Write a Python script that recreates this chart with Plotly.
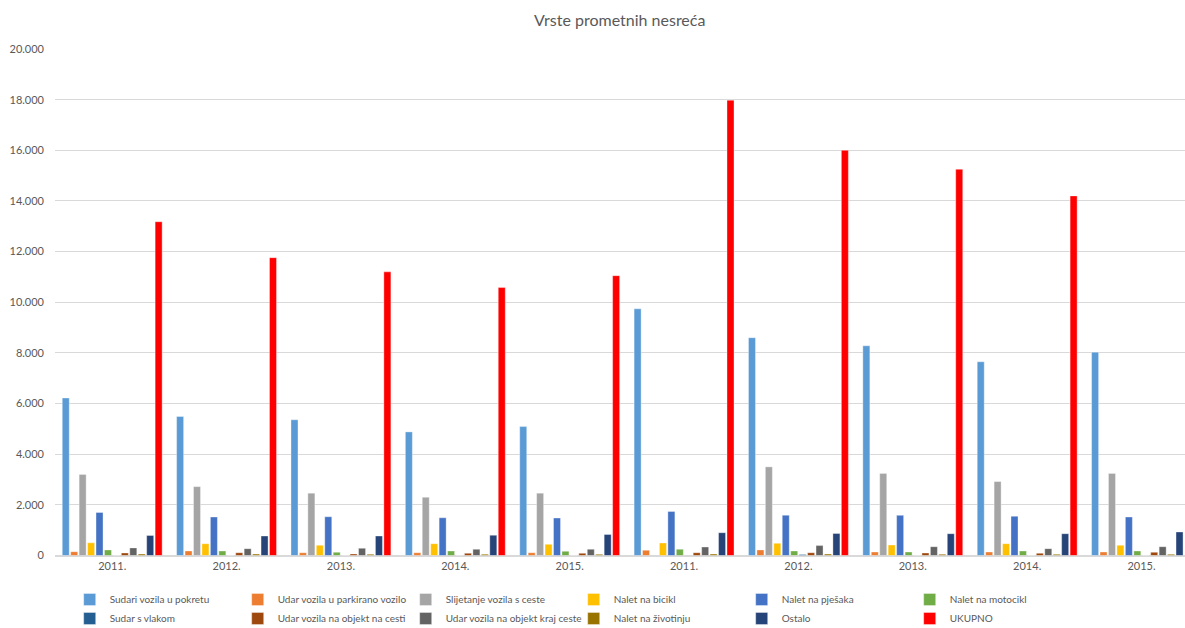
import plotly.graph_objects as go

categories = ["2011.", "2012.", "2013.", "2014.", "2015.",
              "2011. ", "2012. ", "2013. ", "2014. ", "2015. "]
tick_labels = ["2011.", "2012.", "2013.", "2014.", "2015.",
               "2011.", "2012.", "2013.", "2014.", "2015."]

series_names = [
    "Sudari vozila u pokretu",
    "Udar vozila u parkirano vozilo",
    "Slijetanje vozila s ceste",
    "Nalet na bicikl",
    "Nalet na pješaka",
    "Nalet na motocikl",
    "Sudar s vlakom",
    "Udar vozila na objekt na cesti",
    "Udar vozila na objekt kraj ceste",
    "Nalet na životinju",
    "Ostalo",
    "UKUPNO",
]

sudari = [6220, 5490, 5360, 4880, 5090, 9740, 8600, 8280, 7650, 8030]
parkirano = [150, 180, 110, 110, 110, 205, 220, 138, 138, 138]
slijetanje = [3200, 2720, 2460, 2300, 2460, None, 3500, 3240, 2920, 3240]
bicikl = [500, 466, 400, 466, 440, 495, 480, 414, 466, 400]
pjesak = [1700, 1520, 1530, 1490, 1480, 1740, 1590, 1585, 1550, 1520]
motocikl = [220, 178, 126, 178, 165, 245, 178, 138, 178, 178]
vlak = [4, 4, 4, 4, 4, None, 40, 4, 4, 4]
objekt_cesta = [100, 110, 60, 87, 87, 110, 110, 98, 87, 126]
objekt_kraj = [300, 270, 284, 245, 245, 335, 390, 348, 270, 348]
zivotinja = [55, 55, 50, 50, 45, 55, 55, 50, 45, 45]
ostalo = [790, 770, 770, 800, 830, 900, 870, 861, 861, 930]
ukupno = [13180, 11760, 11200, 10580, 11050, 17980, 16000, 15250, 14200, None]

series_values = [sudari, parkirano, slijetanje, bicikl, pjesak, motocikl,
                 vlak, objekt_cesta, objekt_kraj, zivotinja, ostalo, ukupno]

colors = ["#5B9BD5", "#ED7D31", "#A5A5A5", "#FFC000", "#4472C4", "#70AD47",
          "#255E91", "#9E480E", "#636363", "#997300", "#264478", "#FF0000"]

y_ticks = [0, 2000, 4000, 6000, 8000, 10000, 12000, 14000, 16000, 18000, 20000]

fig = go.Figure()
for name, vals, col in zip(series_names, series_values, colors):
    fig.add_trace(go.Bar(
        x=list(range(len(categories))), y=vals, name=name,
        marker=dict(color=col, line=dict(color="rgba(255,255,255,0.6)", width=0.6)),
    ))

fig.update_layout(
    width=1185, height=628,
    paper_bgcolor="white", plot_bgcolor="white",
    font=dict(family="Lato, Carlito, Calibri, sans-serif", color="#595959", size=12),
    title=dict(text="Vrste prometnih nesreća", x=0.523, xanchor="center",
               yref="container", y=1 - 20 / 628, yanchor="middle",
               font=dict(size=16, color="#595959")),
    margin=dict(l=55, r=0, t=0, b=0, autoexpand=False),
    barmode="group", bargap=0.114, bargroupgap=0.17,
    separators=",.",
    showlegend=True,
    legend=dict(orientation="h", x=0.013, xanchor="left",
                y=(628 - 585) / 628, yanchor="top",
                entrywidth=123, entrywidthmode="pixels", itemwidth=30,
                font=dict(size=10, color="#595959"), tracegroupgap=0,
                traceorder="normal"),
)
fig.update_xaxes(
    tickmode="array", tickvals=list(range(len(categories))), ticktext=tick_labels,
    range=[-0.5, 9.38], showgrid=False, showline=True, linecolor="#D9D9D9",
    ticks="", tickfont=dict(size=11, color="#595959"), automargin=False,
)
fig.update_yaxes(
    range=[0, 20000], tickvals=y_ticks, tickformat=",d",
    domain=[(628 - 555.5) / 628, (628 - 49) / 628],
    showgrid=True, gridcolor="#D9D9D9", gridwidth=1, zeroline=True,
    zerolinecolor="#D9D9D9", showline=False, ticks="",
    tickfont=dict(size=11, color="#595959"), ticklabelstandoff=10, automargin=False,
)

fig.write_html(
    "out.html",
    config={"displayModeBar": False},
    post_script="document.body.style.margin='0';document.body.style.padding='0';"
                "document.body.style.overflow='hidden';",
)
